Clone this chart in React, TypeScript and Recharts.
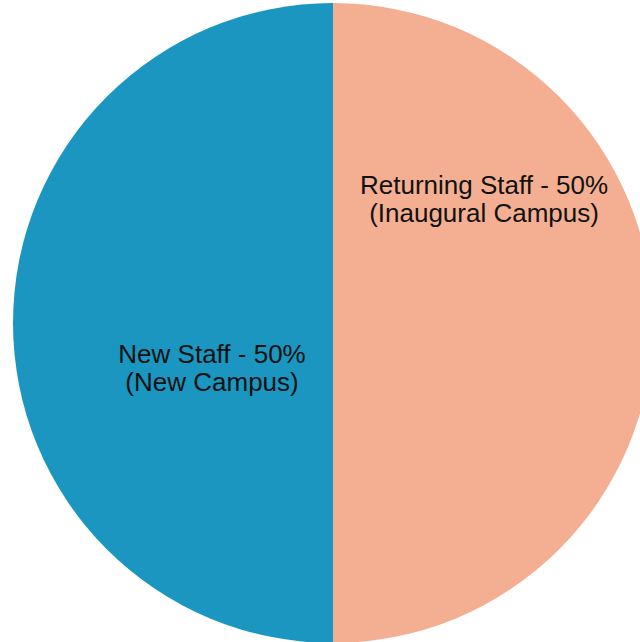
import React from "react";
import { PieChart, Pie, Cell } from "recharts";

const groups = ["Returning Staff", "New Staff"];
const campuses = ["(Inaugural Campus)", "(New Campus)"];
const shares = [50, 50];
const sliceColors = ["#f4af92", "#1a96c0"];

// label anchor, as a fraction of the radius from the centre
const labelSpots = [
  { dx: 0.472, dy: -0.384 },
  { dx: -0.378, dy: 0.144 },
];

const data = groups.map((name, i) => ({
  name,
  campus: campuses[i],
  value: shares[i],
}));

const renderLabel = (props: any) => {
  const { cx, cy, outerRadius, index, payload } = props;
  const spot = labelSpots[index];
  const x = cx + spot.dx * outerRadius;
  const y = cy + spot.dy * outerRadius;
  return (
    <text
      x={x}
      y={y}
      textAnchor="middle"
      fill="#111"
      fontSize={26}
      fontFamily="'Liberation Sans', Arial, sans-serif"
    >
      <tspan x={x} dy={-6}>
        {`${payload.name} - ${payload.value}%`}
      </tspan>
      <tspan x={x} dy={28}>
        {payload.campus}
      </tspan>
    </text>
  );
};

const App = () => {
  return (
    <div style={{ position: "absolute", left: 0, top: 0, width: 640, height: 642 }}>
      <PieChart
        width={640}
        height={642}
        margin={{ top: 0, right: 0, bottom: 0, left: 0 }}
      >
        <Pie
          data={data}
          dataKey="value"
          cx={333}
          cy={323}
          outerRadius={320}
          startAngle={90}
          endAngle={-270}
          stroke="none"
          label={renderLabel}
          labelLine={false}
          isAnimationActive={false}
        >
          {data.map((d, i) => (
            <Cell key={d.name} fill={sliceColors[i]} />
          ))}
        </Pie>
      </PieChart>
    </div>
  );
};

export default App;
